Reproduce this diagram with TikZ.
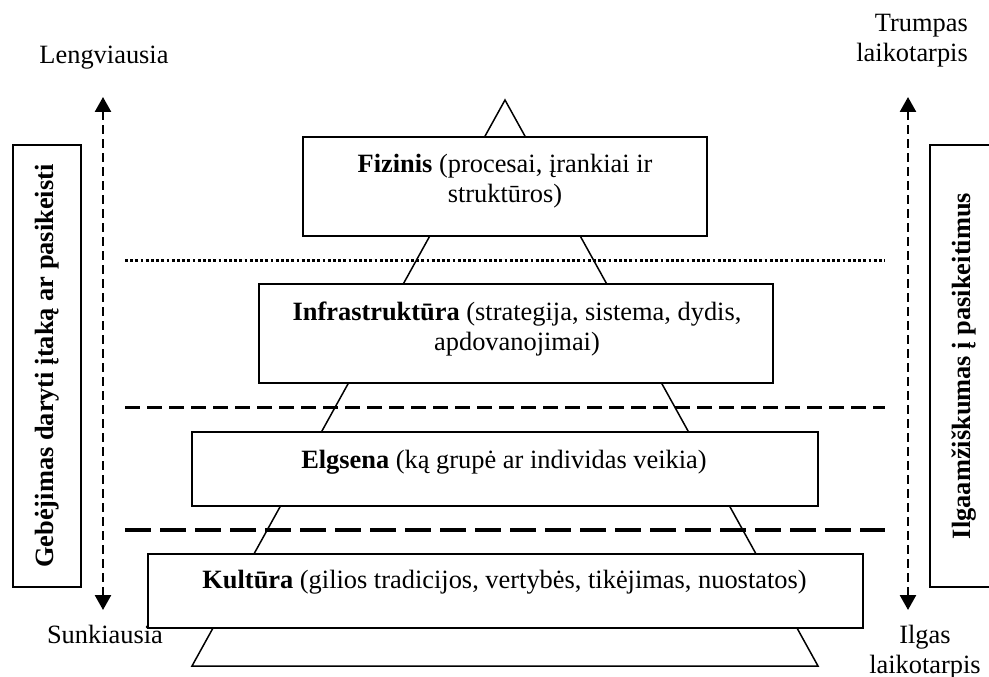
\documentclass[tikz,border=0pt]{standalone}
\usepackage{fontspec}
\setmainfont{Liberation Serif}
\usetikzlibrary{arrows.meta}
\begin{document}
\begin{tikzpicture}[x=1pt,y=-1pt,
  box/.style={draw, line width=1.8pt, fill=white, inner sep=0pt},
  lbl/.style={inner sep=0pt, font=\fontsize{26.4}{30}\selectfont},
  vlbl/.style={font=\bfseries\fontsize{26.4}{30}\selectfont},
  pyr/.style={line width=1.5pt, line join=miter},
  dotline/.style={line width=3pt, dash pattern=on 2.8pt off 2.4pt},
  dashline/.style={line width=3pt, dash pattern=on 15pt off 7pt},
  longdash/.style={line width=3.2pt, dash pattern=on 26pt off 9pt},
  varrow/.style={line width=2.6pt, dash pattern=on 9pt off 5pt,
    {Triangle[width=16pt,length=15pt]}-{Triangle[width=16pt,length=15pt]}}
]
\useasboundingbox (0,0) rectangle (989,677);
\fill[white] (0,0) rectangle (989,677);
\clip (0,0) rectangle (989,677);

% pyramid
\coordinate (apex) at (505,100);
\coordinate (bl) at (192,666);
\coordinate (br) at (818,666);
\draw[pyr] (bl) -- (apex) -- (br) -- cycle;

% boxes
\node[box, minimum width=404pt, minimum height=99pt] (fiz) at (505,186.5) {};
\node[box, minimum width=514pt, minimum height=99pt] (infra) at (516,333.5) {};
\node[box, minimum width=626pt, minimum height=74pt] (elg) at (505,469) {};
\node[box, minimum width=715pt, minimum height=74pt] (kult) at (505.5,591) {};

% separators
\coordinate (s1l) at (125,260); \coordinate (s1r) at (885,260);
\coordinate (s2l) at (125,407); \coordinate (s2r) at (885,407);
\coordinate (s3l) at (125,530); \coordinate (s3r) at (885,530);
\draw[dotline] (s1l) -- (s1r);
\draw[dashline] (s2l) -- (s2r);
\draw[longdash] (s3l) -- (s3r);

% box texts (base = baseline of last line)
\node[lbl, align=center, anchor=base] (fiztxt) at (505,202)
  {\textbf{Fizinis} (procesai, įrankiai ir\\struktūros)};
\node[lbl, align=center, anchor=base] (infratxt) at (517,350)
  {\textbf{Infrastruktūra} (strategija, sistema, dydis,\\apdovanojimai)};
\node[lbl, anchor=base] (elgtxt) at (504,468)
  {\textbf{Elgsena} (ką grupė ar individas veikia)};
\node[lbl, anchor=base] (kulttxt) at (504.5,588)
  {\textbf{Kultūra} (gilios tradicijos, vertybės, tikėjimas, nuostatos)};

% side boxes
\node[box, vlbl, rotate=90, minimum width=442pt, minimum height=68pt] (lbox) at (47,366)
  {Gebėjimas daryti įtaką ar pasikeisti};
\node[box, vlbl, rotate=90, minimum width=442pt, minimum height=68pt] (rbox) at (964,366)
  {Ilgaamžiškumas į pasikeitimus};

% arrows
\coordinate (ltop) at (103,97); \coordinate (lbot) at (103,610);
\coordinate (rtop) at (908,97); \coordinate (rbot) at (908,610);
\draw[varrow] (ltop) -- (lbot);
\draw[varrow] (rtop) -- (rbot);

% end labels
\node[lbl, anchor=base] (easy) at (104,64) {Lengviausia};
\node[lbl, anchor=base] (hard) at (105,643) {Sunkiausia};
\node[lbl, align=right, anchor=base east] (short) at (968,62) {Trumpas\\laikotarpis};
\node[lbl, align=center, anchor=base] (long) at (925,673) {Ilgas\\laikotarpis};
\end{tikzpicture}
\end{document}
